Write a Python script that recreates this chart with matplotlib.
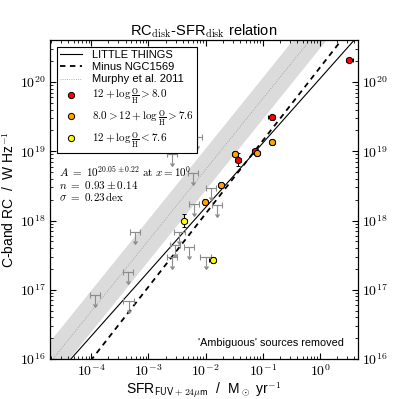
import numpy as np
import matplotlib
matplotlib.use("Agg")
import matplotlib.pyplot as plt
from matplotlib.lines import Line2D
from matplotlib.ticker import FuncFormatter

plt.rcParams['font.family'] = ['Liberation Sans', 'DejaVu Sans']
plt.rcParams['mathtext.fontset'] = 'cm'

# ---- data ----
sfr_red = [3.24, 0.143, 0.0733, 0.0365]
rc_red = [2.09e20, 3.09e19, 1.0e19, 7.6e18]
sfr_orange = [0.145, 0.0783, 0.0327, 0.0184, 0.00993]
rc_orange = [1.35e19, 9.3e18, 9.1e18, 3.24e18, 1.86e18]
sfr_yellow = [0.00427, 0.0132]
rc_yellow = [1.0e18, 2.7e17]
# log errors (dex)
xerr_red = [0.06, 0.06, 0.05, 0.05]
yerr_red = [0.03, 0.04, 0.04, 0.09]
xerr_orange = [0.06, 0.05, 0.05, 0.05, 0.05]
yerr_orange = [0.04, 0.04, 0.04, 0.04, 0.04]
xerr_yellow = [0.05, 0.06]
yerr_yellow = [0.09, 0.04]

sfr_lim = [7.0e-3, 2.6e-3, 6.05e-3, 1.25e-2, 6.2e-3, 1.57e-2, 5.75e-4, 3.48e-3,
           2.93e-3, 5.15e-3, 2.57e-3, 1.0e-2, 4.35e-4, 1.17e-4, 4.5e-4]
rc_lim = [1.61e19, 9.1e18, 4.85e18, 2.94e18, 1.73e18, 1.67e18, 6.8e17, 6.9e17,
          4.4e17, 4.15e17, 3.0e17, 2.97e17, 1.82e17, 8.5e16, 6.8e16]

# fits: log RC = a + n log SFR
fit_lt = (20.05, 0.93)
fit_minus = (20.21, 1.056)
fit_murphy = (20.786, 1.025)
murphy_width = 0.3

xlim = (10**-4.72, 10**0.655)
ylim = (1e16, 10**20.607)

fig = plt.figure(figsize=(3.99, 3.99), dpi=100)
ax = fig.add_axes([50/399, 1-359/399, 307.5/399, 319/399])
ax.set_xscale('log')
ax.set_yscale('log')

xx = np.logspace(-6, 2, 200)
def line(fit, x):
    return 10**(fit[0] + fit[1]*np.log10(x))

ax.fill_between(xx, line(fit_murphy, xx)*10**-murphy_width,
                line(fit_murphy, xx)*10**murphy_width, color='0.86', lw=0, zorder=0)
ax.plot(xx, line(fit_murphy, xx), color='0.6', ls=':', lw=0.6, zorder=1)
ax.plot(xx, line(fit_lt, xx), color='k', ls='-', lw=0.8, zorder=2)
ax.plot(xx, line(fit_minus, xx), color='k', ls=(0, (3, 2.5)), lw=1.3, zorder=2)

def lerr(v, e):
    v = np.array(v); e = np.array(e)
    return np.vstack([v*(1-10**-e), v*(10**e-1)])

# upper limits
gcol = '0.55'
sl = np.array(sfr_lim); rl = np.array(rc_lim)
cont = ax.errorbar(sl, rl, xerr=lerr(sl, np.full(len(sl), 0.09)), yerr=rl*(1-10**-0.13),
                   uplims=True, fmt='none', ecolor=gcol, elinewidth=0.8, capsize=2,
                   capthick=0.8, zorder=3)
for cl in cont[1]:
    cl.set_color(gcol)
    cl.set_markerfacecolor(gcol)
    cl.set_markeredgecolor(gcol)
    if cl.get_marker() not in ('|', '_'):
        cl.set_markersize(3)

for s, r, xe, ye, c in [(sfr_red, rc_red, xerr_red, yerr_red, 'red'),
                        (sfr_orange, rc_orange, xerr_orange, yerr_orange, 'orange'),
                        (sfr_yellow, rc_yellow, xerr_yellow, yerr_yellow, 'yellow')]:
    ax.errorbar(s, r, xerr=lerr(s, xe), yerr=lerr(r, ye), fmt='o', ms=4.5,
                mfc=c, mec='k', mew=0.7, ecolor='k', elinewidth=0.8, capsize=1.5,
                capthick=0.8, zorder=4)

ax.set_xlim(*xlim)
ax.set_ylim(*ylim)
fmt = FuncFormatter(lambda v, p: r'$10^{%d}$' % int(round(np.log10(v))))
ax.xaxis.set_major_formatter(fmt)
ax.yaxis.set_major_formatter(fmt)
ax.tick_params(which='both', direction='in', top=True, right=True,
               labelright=True, labelsize=10)
ax.tick_params(which='major', length=4, width=0.8, pad=3)
ax.tick_params(which='minor', length=2, width=0.6)
for sp in ax.spines.values():
    sp.set_linewidth(0.9)

ax.set_title(r'RC$_{\rm disk}$-SFR$_{\rm disk}$ relation', fontsize=10.5, pad=3)
ax.set_xlabel(r'SFR$_{\mathsf{FUV+24}\mu\mathsf{m}}$  /  M$_\odot$ yr$^{-1}$', fontsize=10, labelpad=1)
ax.set_ylabel(r'C-band RC  /  W Hz$^{-1}$', fontsize=10, labelpad=2)

ax.text(0.03, 0.61, r'$A\ =\ 10^{20.05\pm0.22}\ \mathrm{at}\ x=10^0$' + '\n' +
        r'$n\ =\ 0.93\pm0.14$' + '\n' + r'$\sigma\ =\ 0.23\,\mathrm{dex}$',
        transform=ax.transAxes, fontsize=8, va='top', ha='left', linespacing=0.95)
ax.text(0.955, 0.05, "'Ambiguous' sources removed", transform=ax.transAxes,
        fontsize=7.8, ha='right', va='center')

handles = [Line2D([], [], color='k', lw=0.8),
           Line2D([], [], color='k', ls=(0, (3, 2.5)), lw=1.3),
           Line2D([], [], color='0.6', ls=':', lw=0.6),
           Line2D([], [], marker='o', ls='none', mfc='red', mec='k', ms=4.5, mew=0.7),
           Line2D([], [], marker='o', ls='none', mfc='orange', mec='k', ms=4.5, mew=0.7),
           Line2D([], [], marker='o', ls='none', mfc='yellow', mec='k', ms=4.5, mew=0.7)]
labels = ['LITTLE THINGS', 'Minus NGC1569', 'Murphy et al. 2011',
          r'$12+\log\frac{\rm O}{\rm H}>8.0$',
          r'$8.0>12+\log\frac{\rm O}{\rm H}>7.6$',
          r'$12+\log\frac{\rm O}{\rm H}<7.6$']
leg = ax.legend(handles, labels, loc='upper left', fontsize=8, frameon=True,
                fancybox=False, edgecolor='k', framealpha=1, borderaxespad=0.6,
                handlelength=2.0, handletextpad=0.85, labelspacing=0.2,
                borderpad=0.3)
leg.get_frame().set_linewidth(0.8)

fig.savefig('out.png', dpi=100)
